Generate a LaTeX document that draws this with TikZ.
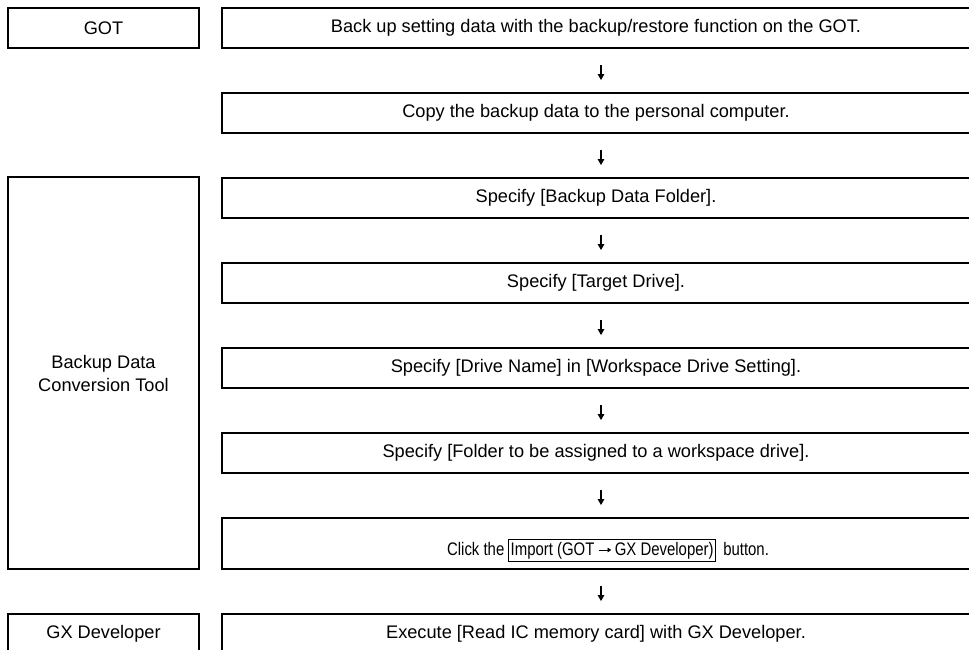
\documentclass[tikz,border=0pt]{standalone}
\usepackage{fontspec}
\setmainfont{Liberation Sans}
\usetikzlibrary{arrows.meta,calc}
\newcommand{\rarrowglyph}{\tikz[baseline=0pt,x=1pt,y=1pt]{\path (0,0) -- (15,0); \draw[line width=0.9pt,-{Triangle[length=4.5pt,width=4.5pt]}] (0,5)--(15,5);}}
\begin{document}
\begin{tikzpicture}[x=1pt,y=-1pt,
  box/.style={draw=black,line width=1.8pt,inner sep=0pt,font=\fontsize{18.2}{23}\selectfont,align=center},
  lbox/.style={box,minimum width=191pt},
  rbox/.style={box,minimum width=748pt},
  arr/.style={line width=1.1pt,-{Triangle[length=6pt,width=6.5pt]}}]
\useasboundingbox (0,0) rectangle (969,649);
\clip (0,0) rectangle (969,649);
\node[lbox,minimum height=40pt] (got) at (103.5,28) {GOT};
\node[lbox,minimum height=392pt] (tool) at (103.5,373) {Backup Data\\Conversion Tool};
\node[lbox,minimum height=40pt] (gx) at (103.5,634) {GX Developer};
\node[rbox,minimum height=40pt] (r1) at (596,28) {Back up setting data with the backup/restore function on the GOT.};
\node[rbox,minimum height=40pt] (r2) at (596,113) {Copy the backup data to the personal computer.};
\node[rbox,minimum height=40pt] (r3) at (596,198) {Specify [Backup Data Folder].};
\node[rbox,minimum height=40pt] (r4) at (596,283) {Specify [Target Drive].};
\node[rbox,minimum height=40pt] (r5) at (596,368) {Specify [Drive Name] in [Workspace Drive Setting].};
\node[rbox,minimum height=40pt] (r6) at (596,453) {Specify [Folder to be assigned to a workspace drive].};
\node[rbox,minimum height=51pt,text depth=0pt] (r7) at (596,543.5) {\hspace*{24pt}\raisebox{-7pt}{\scalebox{0.82}[1]{Click the\hspace{5pt}\setlength{\fboxsep}{1.8pt}\setlength{\fboxrule}{1pt}\fbox{Import (GOT\hspace{5pt}\rarrowglyph\hspace{4pt}GX Developer)}\hspace{9pt}button.}}};
\node[rbox,minimum height=40pt] (r8) at (596,634) {Execute [Read IC memory card] with GX Developer.};
\foreach \a/\b in {r1/r2,r2/r3,r3/r4,r4/r5,r5/r6,r6/r7,r7/r8}{
  \draw[arr] ($(\a.south)+(5,16)$) -- ($(\b.north)+(5,-12)$);
}
\end{tikzpicture}
\end{document}
